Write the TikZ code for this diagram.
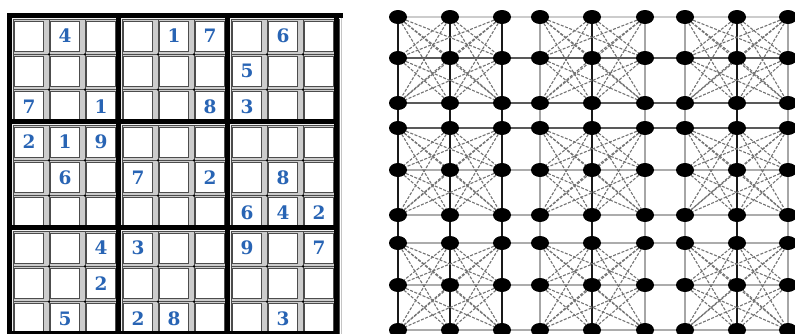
\documentclass[tikz,border=0pt]{standalone}
\usepackage{fontspec}
\newfontfamily\digitfont{DejaVu Serif}
\usetikzlibrary{shapes.geometric}
\pgfdeclarelayer{background}
\pgfsetlayers{background,main}
\definecolor{digitblue}{RGB}{40,100,180}
\begin{document}
\begin{tikzpicture}[x=1pt,y=-1pt,
  vtx/.style={ellipse,fill=black,minimum width=18pt,minimum height=14pt,inner sep=0pt},
  digit/.style={text=digitblue,font=\digitfont\bfseries\fontsize{18.5}{18.5}\selectfont,inner sep=0pt},
  thickcol/.style={line width=2.8pt,black!90},
  thincol/.style={line width=1.4pt,gray!70},
  toprow/.style={line width=1.2pt,gray!40},
  darkrow/.style={line width=1.5pt,black!65},
  rowline/.style={line width=1.4pt,gray!65},
  cross/.style={line width=1.1pt,black!55,dash pattern=on 3pt off 1.5pt},
  cellframe/.style={fill=gray!40,draw=black!70,line width=0.6pt},
  cellface/.style={fill=white,draw=black!70,line width=0.7pt},
]
\useasboundingbox (0,0) rectangle (795,333);
\clip (0,0) rectangle (795,333);
% ---------------- Sudoku ----------------
\fill[black] (7,13) rectangle (339,340);
\fill[black] (7,13) rectangle (343,18);
\draw[gray!45,line width=1.2pt] (341.5,18) -- (341.5,340);
\foreach \bx in {0,1,2}{\foreach \by in {0,1,2}{
  \pgfmathsetmacro\xo{12+109*\bx}
  \pgfmathsetmacro\yo{18+106*\by}
  \fill[gray!12] (\xo,\yo) rectangle ++(109,106);
  \fill[gray!40] (\xo+1,\yo+1) rectangle ++(108,105);
  \foreach \i in {0,1,2}{\foreach \j in {0,1,2}{
    \pgfmathsetmacro\cx{\xo+17+36*\i}
    \pgfmathsetmacro\cy{\yo+18+35.3*\j}
    \draw[cellframe] (\cx-16,\cy-17) rectangle (\cx+20,\cy+18.3);
    \draw[cellface] (\cx-14.5,\cy-15) rectangle (\cx+14.5,\cy+15);
  }}
  \foreach \i in {0,1}{\foreach \j in {0,1}{
    \fill[black] ({\xo+37+36*\i},{\yo+36.3+35.3*\j}) circle (1.3);
  }}
  \fill[black] (\xo+104,\yo) rectangle (\xo+109,\yo+106);
  \fill[black] (\xo,\yo+101) rectangle (\xo+109,\yo+106);
}}
\foreach \r/\c/\d in {0/1/4,0/4/1,0/5/7,0/7/6,1/6/5,2/0/7,2/2/1,2/5/8,2/6/3,
  3/0/2,3/1/1,3/2/9,4/1/6,4/3/7,4/5/2,4/7/8,5/6/6,5/7/4,5/8/2,
  6/2/4,6/3/3,6/6/9,6/8/7,7/2/2,8/1/5,8/3/2,8/4/8,8/7/3}{
  \node[digit] (d-\r-\c) at ({29+109*int(\c/3)+36*mod(\c,3)},{36+106*int(\r/3)+35.3*mod(\r,3)}) {\d};
}
% ---------------- Graph ----------------
\foreach \yy [count=\r] in {17,58,103,128,170,215,243,285,330}{
  \foreach \xx [count=\c] in {398,450,502,540,592,645,685,737,788}{
    \node[vtx] (n-\r-\c) at (\xx,\yy) {};
  }
}
\begin{pgfonlayer}{background}
\foreach \r/\st in {1/toprow,2/darkrow,3/darkrow,4/darkrow,5/rowline,6/rowline,7/rowline,8/rowline,9/rowline}{
  \draw[\st] (n-\r-1.center) -- (n-\r-9.center);
}
\foreach \c/\st in {1/thickcol,2/thickcol,3/thickcol,4/thincol,5/thickcol,6/thincol,7/thincol,8/thickcol,9/thincol}{
  \draw[\st] (n-1-\c.center) -- (n-9-\c.center);
}
\foreach \br in {0,1,2}{\foreach \bc in {0,1,2}{
 \foreach \ra in {1,2,3}{\foreach \rb in {1,2,3}{\foreach \ca in {1,2,3}{\foreach \cb in {1,2,3}{
   \pgfmathtruncatemacro\flag{(\ra<\rb)&&(\ca!=\cb)}
   \ifnum\flag=1
     \pgfmathtruncatemacro\Ra{3*\br+\ra}
     \pgfmathtruncatemacro\Rb{3*\br+\rb}
     \pgfmathtruncatemacro\Ca{3*\bc+\ca}
     \pgfmathtruncatemacro\Cb{3*\bc+\cb}
     \draw[cross] (n-\Ra-\Ca) -- (n-\Rb-\Cb);
   \fi
 }}}}
}}
\end{pgfonlayer}
\end{tikzpicture}
\end{document}
